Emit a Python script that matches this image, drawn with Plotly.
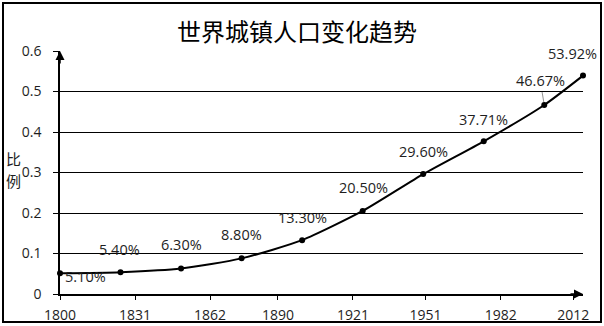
import plotly.graph_objects as go

# ---- data ----
years = [1800, 1825, 1850, 1875, 1900, 1925, 1950, 1975, 2000, 2016]
ratios = [0.051, 0.054, 0.063, 0.088, 0.133, 0.205, 0.296, 0.3771, 0.4667, 0.5392]
labels = ["5.10%", "5.40%", "6.30%", "8.80%", "13.30%", "20.50%", "29.60%", "37.71%", "46.67%", "53.92%"]
x_ticks = [1800, 1831, 1862, 1890, 1921, 1951, 1982, 2012]
y_ticks = [0, 0.1, 0.2, 0.3, 0.4, 0.5, 0.6]
title_text = "世界城镇人口变化趋势"
y_title = "比例"

# ---- layout constants (pixels) ----
W, H = 604, 326
L, R, T, B = 60, 21, 51, 32
PW, PH = W - L - R, H - T - B

NUM_FONT = "Open Sans, Noto Sans CJK SC, sans-serif"
CJK_FONT = "Noto Sans CJK SC, Noto Sans, sans-serif"
TXT = "#1e1e1e"

fig = go.Figure()
fig.add_trace(go.Scatter(
    x=years, y=ratios, mode="lines+markers",
    line=dict(color="black", width=2, shape="spline", smoothing=0.6),
    marker=dict(color="black", size=6),
    hoverinfo="skip", showlegend=False, cliponaxis=False,
))

# label offsets (xshift, yshift, xanchor)
offsets = [(3, -3, "left"), (-1, 23, "center"), (0, 24, "center"), (0, 24, "center"),
           (0, 23, "center"), (1, 23, "center"), (0, 23, "center"), (0, 22, "center"),
           (-4, 24, "center"), (-11, 22, "center")]
for xv, yv, lab, (dx, dy, anc) in zip(years, ratios, labels, offsets):
    if lab == "46.67%":
        fig.add_annotation(x=xv, y=yv, text=lab, showarrow=True, ax=dx, ay=-dy,
                           arrowhead=0, arrowwidth=0.8, arrowcolor="#777", standoff=3,
                           font=dict(family=NUM_FONT, size=14.5, color=TXT))
    else:
        fig.add_annotation(x=xv, y=yv, text=lab, showarrow=False, xshift=dx, yshift=dy,
                           xanchor=anc, yanchor="middle",
                           font=dict(family=NUM_FONT, size=14.5, color=TXT))

# axis arrows
fig.add_annotation(x=0, y=1, xref="paper", yref="paper", text="", showarrow=True,
                   ax=0, ay=14, arrowhead=2, arrowsize=1.2, arrowwidth=1.5, arrowcolor="black")
fig.add_annotation(x=1, y=0, xref="paper", yref="paper", text="", showarrow=True,
                   ax=-14, ay=0, arrowhead=2, arrowsize=1.2, arrowwidth=1.5, arrowcolor="black")

# title
fig.add_annotation(x=(297 - L) / PW, y=(H - B - 31) / PH, xref="paper", yref="paper",
                   text=title_text, showarrow=False, xanchor="center", yanchor="middle",
                   font=dict(family=CJK_FONT, size=24, color="black"))
# y axis title (stacked, one character per row)
for i, ch in enumerate(y_title):
    fig.add_annotation(x=(13 - L) / PW, y=(H - B - (158 + 22 * i)) / PH,
                       xref="paper", yref="paper", text=ch, showarrow=False,
                       xanchor="center", yanchor="middle",
                       font=dict(family=CJK_FONT, size=15, color=TXT))

# outer border
fig.add_shape(type="rect", xref="paper", yref="paper",
              x0=(3 - L) / PW, x1=(601 - L) / PW,
              y0=(H - B - 322) / PH, y1=(H - B - 3) / PH,
              line=dict(color="black", width=2), fillcolor="rgba(0,0,0,0)")

fig.update_layout(
    width=W, height=H,
    margin=dict(l=L, r=R, t=T, b=B, pad=0, autoexpand=False),
    paper_bgcolor="white", plot_bgcolor="white",
    xaxis=dict(range=[1800, 2016], tickmode="array", tickvals=x_ticks,
               ticktext=[str(v) for v in x_ticks], showgrid=False, zeroline=False,
               showline=True, linecolor="black", linewidth=1.5, automargin=False,
               ticks="outside", ticklen=4, tickcolor="black", tickwidth=1,
               ticklabelstandoff=3,
               tickfont=dict(family=NUM_FONT, size=14, color=TXT)),
    yaxis=dict(range=[0, 0.6], tickmode="array", tickvals=y_ticks,
               ticktext=["0" if v == 0 else f"{v:.1f}" for v in y_ticks],
               showgrid=True, gridcolor="black", gridwidth=1, zeroline=False,
               showline=True, linecolor="black", linewidth=1.5, automargin=False,
               ticks="outside", ticklen=5, tickcolor="black", tickwidth=1,
               ticklabelstandoff=9,
               tickfont=dict(family=NUM_FONT, size=14, color=TXT)),
)

fig.write_html("out.html")
